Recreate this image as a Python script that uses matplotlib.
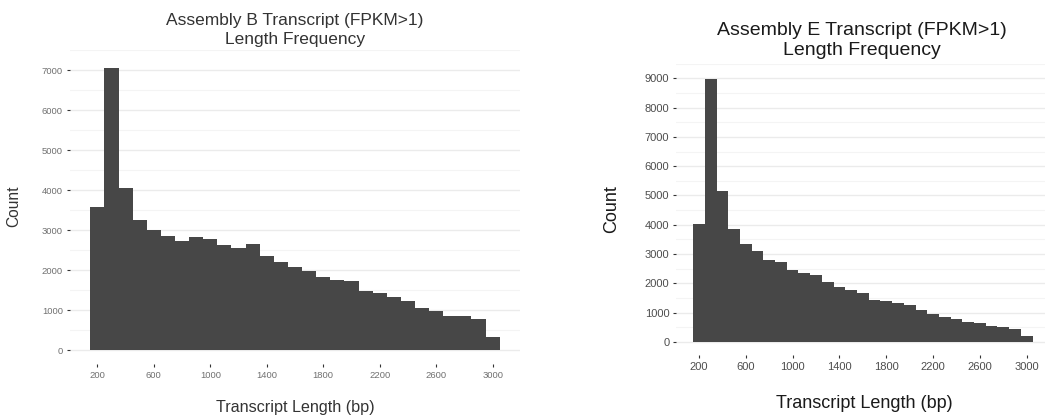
import numpy as np
import matplotlib
matplotlib.use('Agg')
import matplotlib.pyplot as plt

plt.rcParams['font.family'] = ['Liberation Sans', 'DejaVu Sans']

# histogram bins (bp), width 100, centred on 200..3000
bin_centers = list(range(200, 3001, 100))
bin_width = 100

counts_b = [3580, 7050, 4050, 3260, 3000, 2860, 2740, 2830, 2770, 2630,
            2560, 2660, 2360, 2200, 2090, 1990, 1840, 1760, 1730, 1490,
            1430, 1320, 1230, 1050, 980, 850, 850, 770, 330]

counts_e = [4010, 8980, 5150, 3870, 3340, 3110, 2800, 2710, 2455, 2365,
            2275, 2048, 1885, 1776, 1650, 1437, 1390, 1335, 1267, 1075,
            955, 852, 762, 682, 638, 554, 509, 452, 192]

x_ticks = [200, 600, 1000, 1400, 1800, 2200, 2600, 3000]

W, H = 1045, 419
fig = plt.figure(figsize=(W / 100, H / 100), dpi=100)

BAR = '#474747'
GRID = '#EBEBEB'
GRID_MINOR = '#F4F4F4'


def px_axes(x0, x1, top, bottom):
    return fig.add_axes([x0 / W, 1 - bottom / H, (x1 - x0) / W, (bottom - top) / H])


def hist_panel(ax, counts, ymax_tick, tick_size, tick_color):
    ax.bar(bin_centers, counts, width=bin_width, color=BAR, linewidth=0, zorder=3)
    lo = bin_centers[0] - bin_width / 2
    hi = bin_centers[-1] + bin_width / 2
    span = hi - lo
    ax.set_xlim(lo - 0.05 * span, hi + 0.05 * span)
    top = max(counts)
    ax.set_ylim(-0.05 * top, 1.05 * top)
    ax.set_xticks(x_ticks)
    ax.set_yticks(np.arange(0, ymax_tick + 1, 1000))
    ax.set_yticks(np.arange(500, ymax_tick + 1000, 1000), minor=True)
    ax.grid(axis='y', which='major', color=GRID, linewidth=1.0, zorder=0)
    ax.grid(axis='y', which='minor', color=GRID_MINOR, linewidth=0.8, zorder=0)
    ax.grid(axis='x', visible=False)
    for s in ax.spines.values():
        s.set_visible(False)
    ax.tick_params(axis='both', which='major', length=2.5, width=0.8,
                   color='#333333', labelsize=tick_size, labelcolor=tick_color, pad=2.5)
    ax.tick_params(axis='y', which='minor', length=0)
    ax.set_facecolor('white')


# Assembly B
ax1 = px_axes(69.8, 520.2, 50.2, 364.3)
hist_panel(ax1, counts_b, 7000, 6.8, '#707070')
fig.text(295 / W, 1 - 25 / H, 'Assembly B Transcript (FPKM>1)', ha='center',
         va='baseline', fontsize=12.5, color='#333333')
fig.text(295 / W, 1 - 44 / H, 'Length Frequency', ha='center',
         va='baseline', fontsize=12.5, color='#333333')
fig.text(295 / W, 1 - 412 / H, 'Transcript Length (bp)', ha='center',
         va='baseline', fontsize=11.6, color='#333333')
fig.text(14 / W, 1 - 206 / H, 'Count', ha='center', va='center',
         rotation=90, fontsize=11.2, color='#333333')

# Assembly E
ax2 = px_axes(676.2, 1049.5, 63.8, 354.9)
hist_panel(ax2, counts_e, 9000, 8, '#4D4D4D')
fig.text(862 / W, 1 - 35 / H, 'Assembly E Transcript (FPKM>1)', ha='center',
         va='baseline', fontsize=14, color='#1A1A1A')
fig.text(862 / W, 1 - 55 / H, 'Length Frequency', ha='center',
         va='baseline', fontsize=14, color='#1A1A1A')
fig.text(864 / W, 1 - 408 / H, 'Transcript Length (bp)', ha='center',
         va='baseline', fontsize=13, color='#1A1A1A')
fig.text(612 / W, 1 - 209 / H, 'Count', ha='center', va='center',
         rotation=90, fontsize=13, color='#1A1A1A')

fig.savefig('out.png', dpi=100, facecolor='white')
